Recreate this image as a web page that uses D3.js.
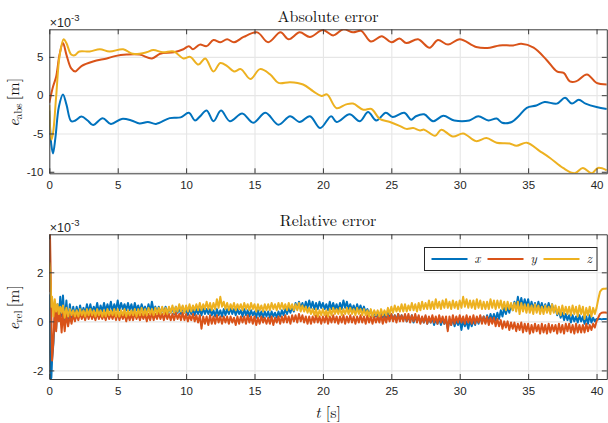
<!DOCTYPE html>
<html>
<head>
<meta charset="utf-8">
<script src="https://cdn.jsdelivr.net/npm/d3@7"></script>
<style>
body{margin:0;background:#fff}
svg{display:block}
</style>
</head>
<body>
<div class="chart"></div>
<script>
//series names and colours (matlab default order)
const names = ["x", "y", "z"];
const colors = ["#0072BD", "#D95319", "#EDB120"];

//tick labels
const tTicks = [0, 5, 10, 15, 20, 25, 30, 35, 40];
const absTicks = [-10, -5, 0, 5];
const relTicks = [-2, 0, 2];

//absolute error, x1e-3 m, read at the turning points
const absXt = [0, 0.15, 0.27, 0.45, 0.7, 1.0, 1.25, 1.6, 1.9, 2.35, 2.8, 3.2, 3.9, 4.5, 5.3, 6.0, 6.6, 7.2, 7.8, 8.8, 9.6, 10.2, 10.65, 11.0, 11.5, 12.0, 12.55, 13.2, 14.1, 14.9, 15.8, 16.75, 17.6, 18.3, 19.05, 19.8, 20.6, 21.0, 21.95, 22.7, 23.3, 23.9, 24.6, 25.1, 25.95, 26.45, 26.8, 27.4, 28.05, 28.8, 29.6, 30.7, 31.35, 32.1, 32.7, 33.1, 33.8, 34.3, 34.9, 35.6, 36.2, 37.1, 37.7, 38.2, 38.7, 39.2, 40.0, 40.75];
const absXv = [-2.0, -6.5, -7.6, -5.5, -1.5, 0.1, -1.2, -3.4, -3.3, -2.8, -3.3, -3.9, -3.0, -3.75, -3.1, -3.3, -3.7, -3.5, -3.75, -3.0, -2.9, -2.3, -3.3, -2.8, -2.0, -3.4, -2.0, -3.4, -2.4, -3.6, -2.3, -3.85, -2.75, -3.5, -2.75, -4.3, -2.75, -3.5, -2.5, -3.4, -2.2, -3.3, -2.3, -2.85, -2.3, -3.2, -2.75, -2.5, -3.4, -2.7, -3.3, -3.3, -2.75, -3.3, -3.05, -3.6, -3.5, -2.75, -1.65, -1.35, -0.9, -1.1, -0.35, -1.1, -0.6, -1.1, -1.55, -1.8];

const absYt = [0, 0.27, 0.5, 0.75, 1.0, 1.25, 1.6, 1.9, 2.35, 3.2, 4.2, 4.8, 5.65, 6.6, 7.5, 8.1, 9.1, 9.8, 10.2, 10.5, 11.0, 11.5, 12.0, 12.5, 13.0, 13.5, 14.2, 15.2, 16.0, 16.9, 17.5, 18.3, 19.05, 20.0, 20.75, 21.5, 22.2, 22.8, 23.5, 24.3, 25.0, 25.6, 26.1, 26.95, 27.8, 28.4, 29.15, 30.0, 31.2, 32.2, 32.9, 33.9, 34.5, 35.4, 36.35, 37.1, 37.6, 38.05, 38.5, 39.3, 40.0, 40.75];
const absYv = [-1.0, 1.1, 2.4, 5.3, 6.8, 5.3, 3.5, 3.1, 3.8, 4.4, 4.8, 5.1, 5.3, 5.3, 4.8, 5.4, 5.6, 6.0, 6.4, 6.0, 6.6, 6.4, 7.2, 6.9, 7.3, 6.9, 7.6, 8.2, 6.9, 8.2, 7.3, 8.2, 7.6, 8.5, 7.8, 8.6, 8.2, 8.4, 7.0, 7.7, 6.9, 7.4, 6.8, 7.3, 6.2, 7.2, 6.6, 7.3, 6.3, 6.2, 6.5, 6.5, 6.7, 6.2, 4.6, 3.1, 2.9, 1.8, 1.8, 2.7, 1.6, 1.4];

const absZt = [0, 0.15, 0.27, 0.5, 0.75, 1.05, 1.25, 1.6, 1.85, 2.2, 2.95, 3.7, 4.4, 5.4, 6.1, 7.1, 7.6, 8.3, 9.1, 9.8, 10.3, 10.9, 11.4, 12.0, 12.5, 13.0, 13.5, 14.0, 14.7, 15.4, 16.15, 16.75, 17.6, 18.55, 19.3, 19.9, 20.3, 21.0, 21.7, 22.2, 22.95, 23.55, 24.15, 24.9, 25.6, 26.1, 26.6, 27.1, 27.4, 28.2, 28.65, 29.5, 30.25, 31.2, 31.95, 32.7, 33.65, 34.15, 34.9, 35.85, 36.6, 37.55, 38.4, 39.0, 39.65, 40.1, 40.75];
const absZv = [-1.3, -5.8, -5.0, -0.2, 5.1, 7.3, 6.8, 5.3, 5.2, 5.7, 5.7, 6.0, 5.7, 6.0, 5.4, 5.6, 5.9, 5.6, 5.7, 4.8, 5.0, 4.0, 4.8, 3.1, 4.2, 3.8, 3.1, 3.4, 2.1, 3.4, 2.7, 1.6, 1.7, 1.4, 0.5, -0.1, 0.1, -1.7, -1.2, -1.1, -1.9, -1.8, -3.1, -3.5, -4.0, -4.4, -4.3, -4.6, -4.5, -5.3, -4.5, -5.4, -5.0, -6.0, -5.6, -6.2, -6.3, -6.6, -6.2, -7.3, -8.2, -9.5, -10.2, -9.5, -10.2, -9.5, -9.8];

//relative error, x1e-3 m: start-up samples, then one sample every 0.125 s from 1 s (one row per second)
const relStartT = [0, 0.05, 0.1, 0.15, 0.2, 0.3, 0.4, 0.5, 0.6, 0.7, 0.8, 0.9];
const relStep = 0.125;

const relXv = [1.1, -1.2, -2.35, -2.3, -1.6, -0.9, 0.2, -0.3, 0.7, 0.1, 1.0, 0.2,
  1.05, 0.0, 0.85, -0.1, 0.7, 0.15, 0.6, 0.2,
  0.6, 0.25, 0.65, 0.3, 0.55, 0.3, 0.7, 0.35,
  0.7, 0.35, 0.6, 0.4, 0.75, 0.35, 0.65, 0.4,
  0.75, 0.4, 0.7, 0.45, 0.8, 0.4, 0.7, 0.45,
  0.85, 0.45, 0.75, 0.5, 0.7, 0.45, 0.75, 0.45,
  0.7, 0.4, 0.75, 0.45, 0.65, 0.4, 0.7, 0.45,
  0.6, 0.35, 0.7, 0.4, 0.8, 0.45, 0.6, 0.35,
  0.6, 0.3, 0.55, 0.35, 0.6, 0.3, 0.55, 0.35,
  0.55, 0.3, 0.6, 0.35, 0.55, 0.3, 0.6, 0.35,
  0.5, 0.25, 0.55, 0.3, 0.5, 0.25, 0.5, 0.3,
  0.5, 0.25, 0.55, 0.3, 0.5, 0.3, 0.5, 0.25,
  0.45, 0.2, 0.5, 0.25, 0.45, 0.2, 0.5, 0.25,
  0.5, 0.3, 0.55, 0.3, 0.5, 0.25, 0.5, 0.3,
  0.45, 0.2, 0.5, 0.25, 0.45, 0.2, 0.45, 0.25,
  0.4, 0.15, 0.45, 0.2, 0.4, 0.15, 0.4, 0.2,
  0.4, 0.15, 0.4, 0.2, 0.35, 0.15, 0.4, 0.2,
  0.45, 0.25, 0.5, 0.3, 0.55, 0.35, 0.6, 0.4,
  0.75, 0.5, 0.8, 0.55, 0.75, 0.5, 0.8, 0.55,
  0.85, 0.55, 0.8, 0.5, 0.75, 0.5, 0.8, 0.55,
  0.75, 0.5, 0.7, 0.45, 0.8, 0.5, 0.75, 0.5,
  0.7, 0.45, 0.75, 0.5, 0.85, 0.55, 0.8, 0.5,
  0.7, 0.45, 0.65, 0.4, 0.7, 0.45, 0.65, 0.4,
  0.6, 0.35, 0.5, 0.3, 0.45, 0.2, 0.4, 0.2,
  0.35, 0.15, 0.4, 0.15, 0.35, 0.1, 0.35, 0.15,
  0.3, 0.05, 0.25, 0.05, 0.3, 0.05, 0.25, 0.05,
  0.25, 0.0, 0.2, 0.0, 0.25, -0.05, 0.2, 0.0,
  0.2, -0.05, 0.15, -0.05, 0.2, -0.1, 0.15, -0.05,
  0.15, -0.15, 0.1, -0.1, 0.15, -0.15, 0.1, -0.1,
  0.1, -0.3, 0.05, -0.15, 0.1, -0.2, 0.05, -0.15,
  0.05, -0.35, 0.05, -0.2, 0.0, -0.3, 0.05, -0.2,
  0.05, -0.15, 0.15, -0.1, 0.2, -0.05, 0.2, -0.05,
  0.25, 0.0, 0.3, 0.05, 0.3, 0.05, 0.35, 0.1,
  0.45, 0.2, 0.55, 0.3, 0.6, 0.35, 0.7, 0.45,
  0.8, 0.55, 1.0, 0.6, 0.95, 0.6, 0.9, 0.6,
  0.9, 0.5, 0.8, 0.5, 0.75, 0.45, 0.8, 0.5,
  0.75, 0.45, 0.7, 0.45, 0.75, 0.45, 0.7, 0.4,
  0.55, 0.25, 0.45, 0.15, 0.35, 0.05, 0.3, 0.05,
  0.25, -0.05, 0.25, 0.0, 0.2, -0.05, 0.25, 0.0,
  0.2, -0.1, 0.2, -0.1, 0.25, -0.05, 0.15, 0.0,
  0.1, 0.08, 0.1, 0.08, 0.1, 0.1, 0.1, 0.1];

const relYv = [1.2, 3.55, 2.0, 0.3, -1.6, -0.8, 0.5, -0.4, 0.6, 0.0, 0.3, -0.45,
  0.35, -0.4, 0.3, -0.2, 0.25, -0.1, 0.3, 0.0,
  0.3, 0.05, 0.35, 0.1, 0.3, 0.05, 0.35, 0.1,
  0.35, 0.1, 0.3, 0.05, 0.35, 0.1, 0.3, 0.1,
  0.3, 0.05, 0.35, 0.1, 0.3, 0.1, 0.35, 0.05,
  0.35, 0.05, 0.3, 0.1, 0.3, 0.0, 0.3, 0.05,
  0.3, 0.05, 0.35, 0.1, 0.3, 0.05, 0.3, 0.1,
  0.3, 0.0, 0.3, 0.05, 0.35, 0.05, 0.3, 0.1,
  0.35, 0.1, 0.3, 0.05, 0.35, 0.1, 0.3, 0.05,
  0.3, 0.05, 0.35, 0.1, 0.3, 0.05, 0.35, 0.05,
  0.3, 0.0, 0.25, 0.05, 0.3, 0.0, 0.25, -0.05,
  0.25, -0.3, 0.2, -0.1, 0.2, -0.15, 0.25, -0.1,
  0.2, -0.1, 0.25, -0.05, 0.2, -0.1, 0.2, -0.05,
  0.2, -0.1, 0.2, -0.05, 0.15, -0.15, 0.2, -0.1,
  0.2, -0.05, 0.2, -0.1, 0.25, -0.05, 0.2, -0.1,
  0.2, -0.15, 0.15, -0.1, 0.2, -0.05, 0.15, -0.1,
  0.15, -0.1, 0.2, -0.15, 0.15, -0.05, 0.2, -0.1,
  0.2, -0.05, 0.25, -0.05, 0.2, -0.1, 0.25, 0.0,
  0.25, -0.05, 0.3, 0.0, 0.25, -0.05, 0.2, -0.1,
  0.2, -0.1, 0.2, -0.05, 0.25, -0.05, 0.2, -0.1,
  0.2, -0.05, 0.25, -0.1, 0.2, -0.05, 0.25, -0.05,
  0.2, -0.1, 0.2, -0.05, 0.25, -0.1, 0.2, -0.05,
  0.25, -0.05, 0.2, -0.1, 0.2, -0.05, 0.25, -0.05,
  0.2, -0.1, 0.25, -0.05, 0.2, -0.1, 0.2, -0.05,
  0.2, -0.05, 0.25, -0.1, 0.2, -0.05, 0.25, 0.0,
  0.3, 0.0, 0.25, -0.05, 0.3, 0.0, 0.25, 0.0,
  0.3, 0.0, 0.3, -0.05, 0.25, 0.0, 0.3, -0.05,
  0.25, -0.1, 0.2, -0.05, 0.25, -0.1, 0.2, -0.05,
  0.25, -0.05, 0.2, -0.1, 0.25, -0.05, 0.2, -0.1,
  0.2, -0.4, 0.2, -0.15, 0.25, -0.1, 0.2, -0.05,
  0.25, -0.05, 0.2, -0.1, 0.25, -0.05, 0.2, -0.1,
  0.25, -0.1, 0.2, -0.05, 0.25, -0.1, 0.2, -0.1,
  0.2, -0.15, 0.15, -0.1, 0.15, -0.2, 0.1, -0.2,
  0.05, -0.3, 0.0, -0.25, 0.0, -0.35, -0.05, -0.3,
  -0.05, -0.4, -0.1, -0.35, -0.05, -0.45, -0.1, -0.4,
  -0.1, -0.5, -0.15, -0.45, -0.1, -0.4, -0.15, -0.5,
  -0.1, -0.45, -0.15, -0.5, -0.1, -0.45, -0.15, -0.4,
  -0.15, -0.5, -0.1, -0.45, -0.15, -0.5, -0.1, -0.4,
  -0.1, -0.45, -0.15, -0.5, -0.1, -0.45, -0.15, -0.45,
  -0.15, -0.45, -0.1, -0.4, -0.15, -0.35, -0.1, -0.25,
  0.0, 0.15, 0.3, 0.35, 0.36, 0.36, 0.35, 0.35];

const relZv = [2.4, 2.2, 1.5, 0.6, 1.0, 0.2, 0.9, 0.4, 0.7, 0.3, 0.6, 0.35,
  0.65, 0.15, 0.55, 0.2, 0.5, 0.25, 0.45, 0.2,
  0.45, 0.2, 0.5, 0.25, 0.45, 0.2, 0.5, 0.25,
  0.5, 0.25, 0.45, 0.2, 0.5, 0.25, 0.45, 0.2,
  0.45, 0.2, 0.5, 0.25, 0.45, 0.25, 0.5, 0.2,
  0.5, 0.2, 0.45, 0.25, 0.5, 0.2, 0.45, 0.25,
  0.45, 0.25, 0.5, 0.2, 0.5, 0.25, 0.55, 0.25,
  0.5, 0.25, 0.55, 0.3, 0.5, 0.25, 0.55, 0.3,
  0.55, 0.3, 0.6, 0.3, 0.55, 0.3, 0.6, 0.35,
  0.65, 0.35, 0.6, 0.4, 0.7, 0.4, 0.65, 0.35,
  0.65, 0.4, 0.7, 0.4, 0.65, 0.45, 0.7, 0.45,
  0.75, 0.45, 0.7, 0.5, 0.8, 0.5, 0.75, 0.45,
  0.75, 0.5, 0.9, 0.55, 1.0, 0.6, 0.8, 0.5,
  0.75, 0.45, 0.7, 0.5, 0.75, 0.45, 0.7, 0.5,
  0.7, 0.45, 0.75, 0.5, 0.7, 0.45, 0.75, 0.5,
  0.7, 0.4, 0.7, 0.45, 0.65, 0.4, 0.7, 0.45,
  0.7, 0.45, 0.75, 0.5, 0.7, 0.45, 0.75, 0.5,
  0.75, 0.5, 0.7, 0.45, 0.75, 0.5, 0.7, 0.45,
  0.7, 0.45, 0.75, 0.4, 0.65, 0.4, 0.6, 0.35,
  0.55, 0.3, 0.5, 0.25, 0.5, 0.2, 0.45, 0.25,
  0.5, 0.25, 0.45, 0.2, 0.5, 0.25, 0.55, 0.3,
  0.5, 0.3, 0.55, 0.25, 0.5, 0.3, 0.55, 0.3,
  0.55, 0.3, 0.5, 0.25, 0.55, 0.3, 0.5, 0.25,
  0.5, 0.25, 0.45, 0.2, 0.5, 0.2, 0.45, 0.25,
  0.45, 0.2, 0.5, 0.25, 0.45, 0.25, 0.55, 0.3,
  0.6, 0.35, 0.65, 0.4, 0.6, 0.4, 0.7, 0.4,
  0.7, 0.4, 0.65, 0.45, 0.75, 0.45, 0.7, 0.4,
  0.75, 0.45, 0.8, 0.5, 0.75, 0.5, 0.85, 0.5,
  0.8, 0.5, 0.9, 0.55, 0.8, 0.5, 0.85, 0.55,
  0.9, 0.55, 0.8, 0.5, 0.85, 0.55, 0.8, 0.5,
  0.85, 0.55, 1.0, 0.6, 0.9, 0.55, 0.85, 0.55,
  0.85, 0.5, 0.9, 0.55, 0.85, 0.5, 0.8, 0.5,
  0.8, 0.5, 0.9, 0.55, 0.85, 0.5, 0.85, 0.55,
  0.85, 0.5, 0.8, 0.45, 0.8, 0.5, 0.75, 0.45,
  0.75, 0.4, 0.8, 0.3, 0.75, 0.4, 0.7, 0.35,
  0.7, 0.35, 0.65, 0.3, 0.7, 0.35, 0.65, 0.3,
  0.6, 0.3, 0.65, 0.35, 0.6, 0.3, 0.7, 0.35,
  0.65, 0.3, 0.6, 0.25, 0.65, 0.3, 0.6, 0.3,
  0.6, 0.25, 0.65, 0.3, 0.6, 0.2, 0.65, 0.3,
  0.6, 0.1, 0.55, 0.25, 0.6, 0.2, 0.55, 0.3,
  0.55, 0.9, 1.2, 1.3, 1.33, 1.33, 1.34, 1.33];

//layout
const W = 608, H = 423;
const L = 49.3, R = 606.8;
const TICK = 5;
const sans = "'Liberation Sans', Arial, sans-serif";
const serif = "'Latin Modern Roman', 'CMU Serif', 'Liberation Serif', 'DejaVu Serif', serif";

const svg = d3.select(".chart").append("svg")
    .attr("width", W).attr("height", H);

const xScale = d3.scaleLinear().domain([0, 40.75]).range([L, R]);

const relT = relStartT.concat(d3.range(1, 40.9, relStep));

function pairs(t, v) {
    return t.slice(0, v.length).map((d, i) => [d, v[i]]);
}

function panel(o) {
    const g = svg.append("g");
    const yScale = d3.scaleLinear().domain(o.yDomain).range([o.bottom, o.top]);
    const h = o.bottom - o.top, w = R - L;

    //grid
    g.append("g")
        .attr("transform", `translate(0,${o.bottom})`)
        .call(d3.axisBottom(xScale).tickValues(tTicks).tickSize(-h).tickFormat(""))
        .call(g => g.select(".domain").remove())
        .call(g => g.selectAll(".tick line").attr("stroke", "#e6e6e6").attr("stroke-width", 1.1));
    g.append("g")
        .attr("transform", `translate(${L},0)`)
        .call(d3.axisLeft(yScale).tickValues(o.yTicks).tickSize(-w).tickFormat(""))
        .call(g => g.select(".domain").remove())
        .call(g => g.selectAll(".tick line").attr("stroke", "#e6e6e6").attr("stroke-width", 1.1));

    //lines
    const clipId = "clip" + o.id;
    svg.append("clipPath").attr("id", clipId)
        .append("rect").attr("x", L).attr("y", o.top).attr("width", w).attr("height", h);

    const line = d3.line()
        .x(d => xScale(d[0]))
        .y(d => yScale(d[1]))
        .curve(o.curve);

    g.append("g").attr("clip-path", `url(#${clipId})`)
        .selectAll("path")
        .data(o.series)
        .join("path")
        .attr("fill", "none")
        .attr("stroke", (d, i) => colors[i])
        .attr("stroke-width", 2)
        .attr("stroke-linejoin", "round")
        .attr("d", line);

    //box with inward ticks
    const axisStyle = g => g
        .call(g => g.select(".domain").attr("stroke", "#3a3a3a").attr("stroke-width", 1))
        .call(g => g.selectAll(".tick line").attr("stroke", "#3a3a3a"))
        .call(g => g.selectAll(".tick text").attr("fill", "#262626")
            .attr("font-family", sans).attr("font-size", 11.5));

    g.append("g")
        .attr("transform", `translate(0,${o.bottom})`)
        .call(d3.axisBottom(xScale).tickValues(tTicks).tickSizeInner(-TICK).tickSizeOuter(0)
            .tickPadding(8).tickFormat(d => String(d)))
        .call(axisStyle);
    g.append("g")
        .attr("transform", `translate(0,${o.top})`)
        .call(d3.axisTop(xScale).tickValues(tTicks).tickSizeInner(-TICK).tickSizeOuter(0).tickFormat(""))
        .call(axisStyle);
    g.append("g")
        .attr("transform", `translate(${L},0)`)
        .call(d3.axisLeft(yScale).tickValues(o.yTicks).tickSizeInner(-TICK).tickSizeOuter(0)
            .tickPadding(6).tickFormat(d => String(d)))
        .call(axisStyle);
    g.append("g")
        .attr("transform", `translate(${R},0)`)
        .call(d3.axisRight(yScale).tickValues(o.yTicks).tickSizeInner(-TICK).tickSizeOuter(0).tickFormat(""))
        .call(axisStyle);

    //title
    g.append("text")
        .attr("x", (L + R) / 2).attr("y", o.titleY)
        .attr("text-anchor", "middle")
        .attr("font-family", serif).attr("font-size", 16).attr("fill", "#111")
        .text(o.title);

    //x10^-3 multiplier
    const m = g.append("text")
        .attr("x", L + 0.5).attr("y", o.top - 2.5)
        .attr("font-family", sans).attr("font-size", 12.5).attr("fill", "#262626");
    m.append("tspan").text("\u00d710");
    m.append("tspan").attr("dy", -5.5).attr("font-size", 9.5).text("-3");

    //y label
    const yl = g.append("text")
        .attr("transform", `translate(18.5,${(o.top + o.bottom) / 2 + 1}) rotate(-90)`)
        .attr("text-anchor", "middle")
        .attr("font-family", serif).attr("font-size", 16).attr("fill", "#111");
    yl.append("tspan").attr("font-style", "italic").text("e");
    yl.append("tspan").attr("font-size", 11).attr("dy", 3).text(o.sub);
    yl.append("tspan").attr("dy", -3).text("\u2009[m]");

    return g;
}

panel({
    id: "abs", top: 29.3, bottom: 173.3, yDomain: [-10.2, 8.6], yTicks: absTicks,
    title: "Absolute error", titleY: 21.5, sub: "abs", curve: d3.curveCatmullRom,
    series: [pairs(absXt, absXv), pairs(absYt, absYv), pairs(absZt, absZv)]
});

panel({
    id: "rel", top: 234.3, bottom: 379, yDomain: [-2.35, 3.55], yTicks: relTicks,
    title: "Relative error", titleY: 226, sub: "rel", curve: d3.curveLinear,
    series: [pairs(relT, relXv), pairs(relT, relYv), pairs(relT, relZv)]
});

//x label
const xl = svg.append("text")
    .attr("x", (L + R) / 2).attr("y", 418)
    .attr("text-anchor", "middle")
    .attr("font-family", serif).attr("font-size", 16).attr("fill", "#111");
xl.append("tspan").attr("font-style", "italic").text("t");
xl.append("tspan").text(" [s]");

//legend
const lg = svg.append("g");
lg.append("rect")
    .attr("x", 424.5).attr("y", 247.5).attr("width", 172.5).attr("height", 23)
    .attr("fill", "#fff").attr("stroke", "#262626").attr("stroke-width", 1);
const item = lg.selectAll("g.item")
    .data(names)
    .join("g")
    .attr("class", "item")
    .attr("transform", (d, i) => `translate(${431.5 + i * 56},259)`);
item.append("line")
    .attr("x1", 0).attr("x2", 36)
    .attr("stroke", (d, i) => colors[i]).attr("stroke-width", 2);
item.append("text")
    .attr("x", 43).attr("dy", "0.3em")
    .attr("font-family", serif).attr("font-style", "italic").attr("font-size", 13)
    .attr("fill", "#111")
    .text(d => d);
</script>
</body>
</html>
